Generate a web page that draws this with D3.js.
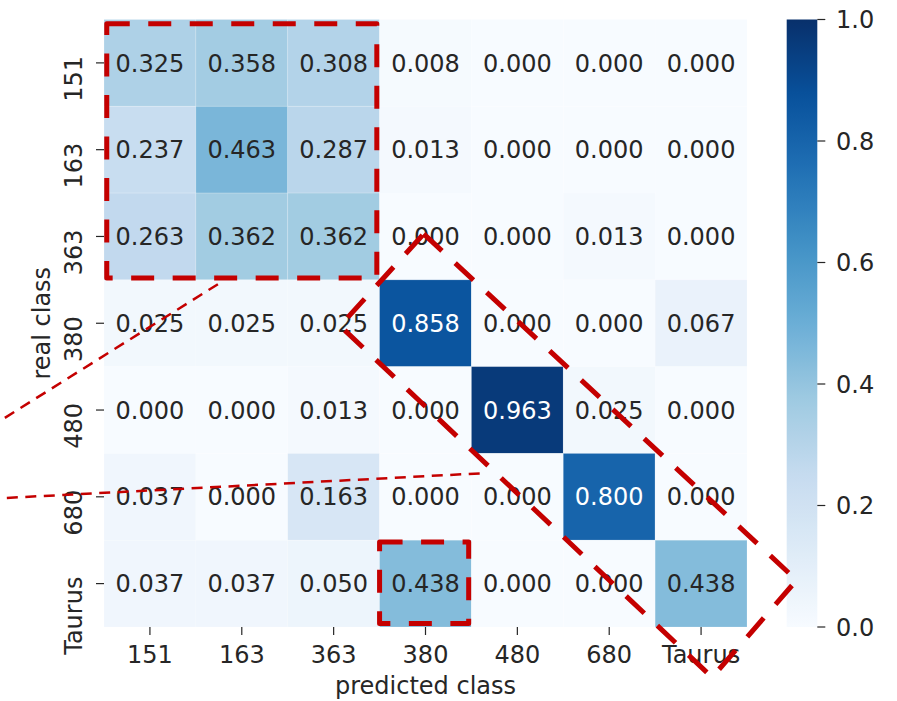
<!DOCTYPE html>
<html>
<head>
<meta charset="utf-8">
<script src="https://cdn.jsdelivr.net/npm/d3@7"></script>
<style>
  html, body { margin: 0; padding: 0; background: #ffffff; }
  svg { display: block; font-family: "DejaVu Sans", sans-serif; }
</style>
</head>
<body>
<svg id="chart" width="897" height="701"></svg>
<script>
// ---------------- data ----------------
const classes = ["151", "163", "363", "380", "480", "680", "Taurus"];
const row151    = [0.325, 0.358, 0.308, 0.008, 0.000, 0.000, 0.000];
const row163    = [0.237, 0.463, 0.287, 0.013, 0.000, 0.000, 0.000];
const row363    = [0.263, 0.362, 0.362, 0.000, 0.000, 0.013, 0.000];
const row380    = [0.025, 0.025, 0.025, 0.858, 0.000, 0.000, 0.067];
const row480    = [0.000, 0.000, 0.013, 0.000, 0.963, 0.025, 0.000];
const row680    = [0.037, 0.000, 0.163, 0.000, 0.000, 0.800, 0.000];
const rowTaurus = [0.037, 0.037, 0.050, 0.438, 0.000, 0.000, 0.438];
const colorbarTicks = [0.0, 0.2, 0.4, 0.6, 0.8, 1.0];
const xLabel = "predicted class";
const yLabel = "real class";

const matrix = [row151, row163, row363, row380, row480, row680, rowTaurus];
const cells = [];
matrix.forEach((row, i) => row.forEach((v, j) => cells.push({ real: classes[i], pred: classes[j], v })));

// ---------------- layout ----------------
const svg = d3.select("#chart");
const L = 104, R = 747, T = 19.5, B = 627;
const fs = 24;

const x = d3.scaleBand().domain(classes).range([L, R]);
const y = d3.scaleBand().domain(classes).range([T, B]);
// continuous cell-unit scales for annotations
const xc = d3.scaleLinear().domain([0, 7]).range([L, R]);
const yc = d3.scaleLinear().domain([0, 7]).range([T, B]);

// matplotlib "Blues" (linear segmented from ColorBrewer stops)
const bluesStops = ["#f7fbff", "#deebf7", "#c6dbef", "#9ecae1", "#6baed6", "#4292c6", "#2171b5", "#08519c", "#08306b"];
const color = d3.scaleLinear()
  .domain(d3.range(9).map(i => i / 8))
  .range(bluesStops)
  .interpolate(d3.interpolateRgb)
  .clamp(true);

function relLum(c) {
  const rgb = d3.rgb(c);
  const f = u => { u /= 255; return u <= 0.03928 ? u / 12.92 : Math.pow((u + 0.055) / 1.055, 2.4); };
  return 0.2126 * f(rgb.r) + 0.7152 * f(rgb.g) + 0.0722 * f(rgb.b);
}

svg.append("rect").attr("width", 897).attr("height", 701).attr("fill", "#ffffff");

// cells
svg.append("g").selectAll("rect").data(cells).join("rect")
  .attr("x", d => x(d.pred))
  .attr("y", d => y(d.real))
  .attr("width", x.bandwidth())
  .attr("height", y.bandwidth())
  .attr("fill", d => color(d.v))
  .attr("stroke", "#ffffff")
  .attr("stroke-opacity", 0.22)
  .attr("stroke-width", 0.8);

// annotations
svg.append("g").selectAll("text").data(cells).join("text")
  .attr("x", d => x(d.pred) + x.bandwidth() / 2)
  .attr("y", d => y(d.real) + y.bandwidth() / 2)
  .attr("dy", "0.36em")
  .attr("text-anchor", "middle")
  .attr("font-size", fs)
  .attr("fill", d => relLum(color(d.v)) > 0.408 ? "#262626" : "#ffffff")
  .text(d => d3.format(".3f")(d.v));

// x axis
const xAxis = svg.append("g");
xAxis.selectAll("line").data(classes).join("line")
  .attr("x1", d => x(d) + x.bandwidth() / 2).attr("x2", d => x(d) + x.bandwidth() / 2)
  .attr("y1", B).attr("y2", B + 8)
  .attr("stroke", "#262626").attr("stroke-width", 1.2);
xAxis.selectAll("text").data(classes).join("text")
  .attr("x", d => x(d) + x.bandwidth() / 2)
  .attr("y", 663)
  .attr("text-anchor", "middle")
  .attr("font-size", fs)
  .attr("fill", "#262626")
  .text(d => d);
svg.append("text")
  .attr("x", (L + R) / 2).attr("y", 694)
  .attr("text-anchor", "middle").attr("font-size", fs).attr("fill", "#262626")
  .text(xLabel);

// y axis
const yAxis = svg.append("g");
yAxis.selectAll("line").data(classes).join("line")
  .attr("y1", d => y(d) + y.bandwidth() / 2).attr("y2", d => y(d) + y.bandwidth() / 2)
  .attr("x1", L).attr("x2", L - 8)
  .attr("stroke", "#262626").attr("stroke-width", 1.2);
yAxis.selectAll("text").data(classes).join("text")
  .attr("transform", d => `translate(82,${y(d) + y.bandwidth() / 2 - 7}) rotate(-90)`)
  .attr("text-anchor", "end")
  .attr("font-size", fs)
  .attr("fill", "#262626")
  .text(d => d);
svg.append("text")
  .attr("transform", `translate(50,${(T + B) / 2}) rotate(-90)`)
  .attr("text-anchor", "middle").attr("font-size", fs).attr("fill", "#262626")
  .text(yLabel);

// colorbar
const cbX = 786.7, cbW = 30.6;
const cbScale = d3.scaleLinear().domain([0, 1]).range([B, T]);
const defs = svg.append("defs");
const grad = defs.append("linearGradient").attr("id", "cbgrad")
  .attr("x1", 0).attr("y1", 1).attr("x2", 0).attr("y2", 0);
d3.range(0, 1.0001, 0.02).forEach(t => {
  grad.append("stop").attr("offset", t).attr("stop-color", color(t));
});
svg.append("rect")
  .attr("x", cbX).attr("y", cbScale(1))
  .attr("width", cbW).attr("height", cbScale(0) - cbScale(1))
  .attr("fill", "url(#cbgrad)");
const cbAxis = svg.append("g");
cbAxis.selectAll("line").data(colorbarTicks).join("line")
  .attr("x1", cbX + cbW).attr("x2", cbX + cbW + 8)
  .attr("y1", d => cbScale(d)).attr("y2", d => cbScale(d))
  .attr("stroke", "#262626").attr("stroke-width", 1.2);
cbAxis.selectAll("text").data(colorbarTicks).join("text")
  .attr("x", 836).attr("y", d => cbScale(d))
  .attr("dy", "0.36em")
  .attr("font-size", fs).attr("fill", "#262626")
  .text(d => d3.format(".1f")(d));

// ---------------- red dashed highlights (cell units) ----------------
const red = "#c40000";
const topBox = [[0.03, 0.05], [2.97, 2.98]];
const smallBox = [[3.0, 6.02], [3.97, 6.96]];
const diagBox = [[3.48, 2.47], [7.54, 6.46], [6.62, 7.58], [2.57, 3.53]];
const guide1 = [[1.24, 3.05], [-1.2, 4.67]];
const guide2 = [[4.09, 5.23], [-1.2, 5.52]];

const hl = svg.append("g").attr("fill", "none");
function box(b) {
  const [[a0, b0], [a1, b1]] = b;
  return [[a0, b0], [a1, b0], [a1, b1], [a0, b1]];
}
const polyLine = d3.line().x(d => xc(d[0])).y(d => yc(d[1]));
[box(topBox), box(smallBox)].forEach(pts => {
  hl.append("path")
    .attr("d", polyLine(pts) + "Z")
    .attr("stroke", red).attr("stroke-width", 5)
    .attr("stroke-dasharray", "23 18.5")
    .attr("stroke-linejoin", "round");
});
hl.append("path")
  .attr("d", polyLine(diagBox) + "Z")
  .attr("stroke", red).attr("stroke-width", 5)
  .attr("stroke-dasharray", "25 18")
  .attr("stroke-linejoin", "miter");
[guide1, guide2].forEach(g => {
  hl.append("path")
    .attr("d", polyLine(g))
    .attr("stroke", red).attr("stroke-width", 2.5)
    .attr("stroke-dasharray", "11 7.5");
});
</script>
</body>
</html>
